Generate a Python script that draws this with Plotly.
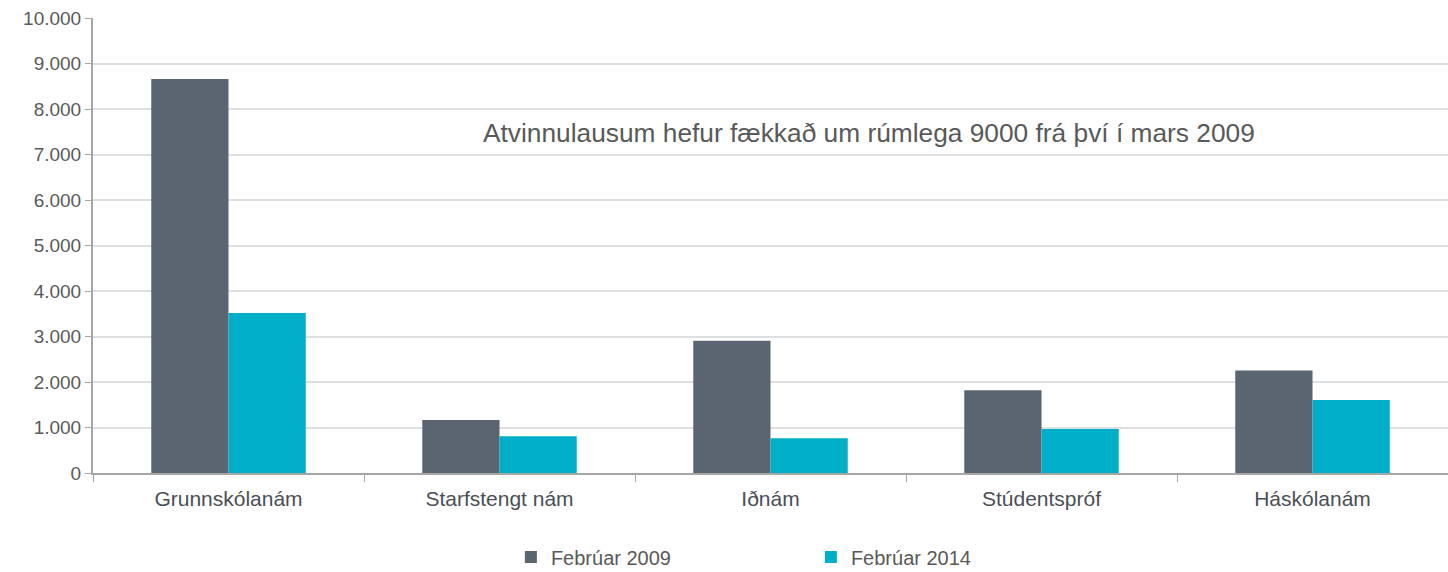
import plotly.graph_objects as go

categories = ["Grunnskólanám", "Starfstengt nám", "Iðnám", "Stúdentspróf", "Háskólanám"]
feb_2009 = [8660, 1167, 2905, 1820, 2252]
feb_2014 = [3518, 807, 763, 968, 1607]
y_ticks = [0, 1000, 2000, 3000, 4000, 5000, 6000, 7000, 8000, 9000, 10000]
annotation_text = "Atvinnulausum hefur fækkað um rúmlega 9000 frá því í mars 2009"

fig = go.Figure()
fig.add_trace(go.Bar(x=categories, y=feb_2009, name="Febrúar 2009",
                     marker=dict(color="#5B6570", line=dict(width=0))))
fig.add_trace(go.Bar(x=categories, y=feb_2014, name="Febrúar 2014",
                     marker=dict(color="#00AEC7", line=dict(width=0))))

font_family = "Liberation Sans, Arial, sans-serif"

fig.update_layout(
    width=1448, height=572,
    margin=dict(l=93, r=0, t=18, b=99),
    paper_bgcolor="white", plot_bgcolor="white",
    barmode="group", bargap=0.43, bargroupgap=0,
    separators=",.",
    font=dict(family=font_family, size=19, color="#595959"),
    showlegend=True,
    legend=dict(orientation="h", xref="container", yref="container",
                x=0.56, xanchor="center", y=1 - 557 / 572, yanchor="middle",
                entrywidth=255, entrywidthmode="pixels", itemwidth=30,
                font=dict(size=20, color="#595959"), itemclick=False),
    xaxis=dict(showline=True, linecolor="#A6A6A6", linewidth=2,
               ticks="outside", tickson="boundaries", ticklen=7,
               tickcolor="#A6A6A6", tickwidth=1, ticklabelstandoff=6,
               tickfont=dict(size=21, color="#4A4F55"), showgrid=False),
    yaxis=dict(range=[0, 10000], tickvals=y_ticks, tickformat=",d",
               showline=True, linecolor="#A6A6A6", linewidth=2,
               ticks="outside", ticklen=6, tickcolor="#A6A6A6",
               showgrid=True, gridcolor="#DDE0E3", gridwidth=2,
               zeroline=False,
               tickfont=dict(size=19, color="#595959")),
    annotations=[dict(text=annotation_text, xref="paper", yref="paper",
                      x=(869 - 93) / (1448 - 93), y=(473 - 133) / (473 - 18),
                      xanchor="center", yanchor="middle", showarrow=False,
                      font=dict(size=26.3, color="#595959", family=font_family))],
)

fig.write_html(
    "out.html",
    config={"displayModeBar": False},
    post_script="document.body.style.margin='0';document.body.style.overflow='hidden';",
)
